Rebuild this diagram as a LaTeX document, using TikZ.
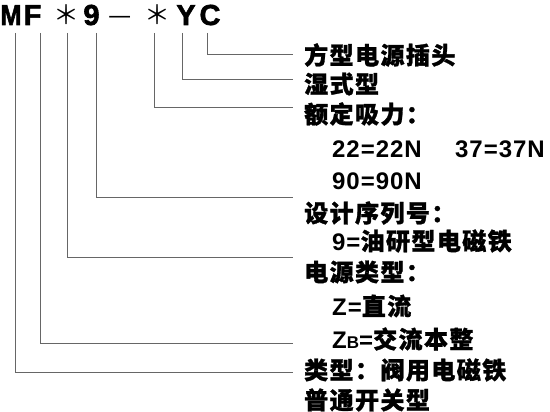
\documentclass[tikz,border=0pt]{standalone}
\usepackage{fontspec}
\setmainfont{Liberation Sans}
\newfontfamily\headfont{Liberation Sans}[FakeBold=2]
\newfontfamily\latfont{Liberation Sans}[LetterSpace=4]
\newfontfamily\cjkfont{Noto Sans CJK SC}[LetterSpace=6, FakeBold=1.2]
\newfontfamily\starfont{Noto Sans CJK SC}
\newcommand{\cn}[1]{{\cjkfont\bfseries\fontsize{24}{24}\selectfont #1}}
\newcommand{\la}[1]{{\latfont\bfseries\fontsize{24}{24}\selectfont #1}}
\newcommand{\sm}[1]{{\latfont\bfseries\fontsize{17}{17}\selectfont #1}}
\tikzset{
  head/.style={inner sep=0pt, anchor=base, font=\headfont\bfseries\fontsize{29}{29}\selectfont},
  star/.style={inner sep=0pt, anchor=base, font=\starfont\fontsize{26}{26}\selectfont},
  item/.style={inner sep=0pt, anchor=west},
  lead/.style={draw=black!60, line width=1pt},
}
\begin{document}
\begin{tikzpicture}[x=1pt, y=-1pt]
\useasboundingbox (0,0) rectangle (550,412);
% model code
\node[head, xscale=0.88] (hM) at (11,25) {M};
\node[head] (hF) at (32.5,25) {F};
\node[star] (hSa) at (66,25) {＊};
\node[head] (h9) at (91.5,25) {9};
\node[star] (hD) at (120,25) {—};
\node[star] (hSb) at (157,25) {＊};
\node[head] (hY) at (186,25) {Y};
\node[head] (hC) at (210,25) {C};
% explanations
\node[item] (tPlug) at (304,55) {\cn{方型电源插头}};
\node[item] (tWet) at (304,84) {\cn{湿式型}};
\node[item] (tForce) at (304,114) {\cn{额定吸力：}};
\node[item] (tFa) at (332,149) {\la{22=22N}};
\node[item] (tFb) at (455,149) {\la{37=37N}};
\node[item] (tFc) at (332,181) {\la{90=90N}};
\node[item] (tSer) at (304,213) {\cn{设计序列号：}};
\node[item] (tSera) at (332,241) {\la{9=}\cn{油研型电磁铁}};
\node[item] (tPow) at (304,272) {\cn{电源类型：}};
\node[item] (tPowa) at (332,306) {\la{Z=}\cn{直流}};
\node[item] (tPowb) at (332,339) {\la{Z}\sm{B}\la{=}\cn{交流本整}};
\node[item] (tType) at (304,370) {\cn{类型：阀用电磁铁}};
\node[item] (tTypea) at (304,400) {\cn{普通开关型}};
% leader ends
\coordinate (eC) at (293,55);
\coordinate (eY) at (293,80);
\coordinate (eSb) at (293,108);
\coordinate (e9) at (293,198);
\coordinate (eSa) at (293,257);
\coordinate (eF) at (293,343);
\coordinate (eM) at (293,372);
\draw[lead] (hC.base) ++(-3,8) |- (eC);
\draw[lead] (hY.base) ++(-4,8) |- (eY);
\draw[lead] (hSb.base) ++(-3,8) |- (eSb);
\draw[lead] (h9.base) ++(4.5,8) |- (e9);
\draw[lead] (hSa.base) ++(1,8) |- (eSa);
\draw[lead] (hF.base) ++(7.5,8) |- (eF);
\draw[lead] (hM.base) ++(4,8) |- (eM);
\end{tikzpicture}
\end{document}
